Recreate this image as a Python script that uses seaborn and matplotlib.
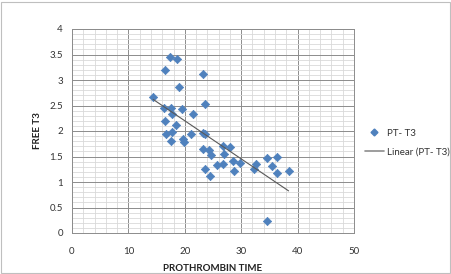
import numpy as np
import pandas as pd
import matplotlib
matplotlib.use("Agg")
import matplotlib.pyplot as plt
import seaborn as sns
from matplotlib.ticker import MultipleLocator, FormatStrFormatter
from matplotlib.lines import Line2D

pt = [14.4, 16.3, 16.5, 17.4, 18.6, 19.0, 17.6, 16.5, 17.7, 18.4, 19.5,
      16.7, 17.7, 17.6, 19.9, 19.7, 21.1, 21.5, 23.2, 23.6, 23.2, 23.6,
      23.2, 24.3, 24.6, 23.6, 24.5, 25.7, 26.8, 27.0, 26.8, 28.0, 28.5,
      28.7, 29.8, 32.3, 32.6, 34.6, 35.5, 36.3, 36.3, 38.4, 34.6]
t3 = [2.67, 2.45, 3.20, 3.45, 3.41, 2.86, 2.45, 2.20, 2.33, 2.12, 2.43,
      1.95, 1.98, 1.80, 1.78, 1.84, 1.94, 2.33, 3.12, 2.53, 1.96, 1.94,
      1.65, 1.63, 1.53, 1.25, 1.11, 1.33, 1.35, 1.55, 1.70, 1.68, 1.42,
      1.22, 1.37, 1.25, 1.35, 1.47, 1.31, 1.49, 1.17, 1.22, 0.24]

df = pd.DataFrame({"PROTHROMBIN TIME": pt, "FREE T3": t3})

sns.set_style("white")
plt.rcParams['font.family'] = ['Lato', 'DejaVu Sans']

fig = plt.figure(figsize=(4.52, 2.74), dpi=100)
ax = fig.add_axes([72/452, 41/274, 282/452, 204/274])

sns.scatterplot(data=df, x="PROTHROMBIN TIME", y="FREE T3", ax=ax,
                marker="D", s=18, color="#4F81BD", edgecolor="#4F81BD",
                linewidth=0.5, zorder=3, legend=False)

slope, intercept = np.polyfit(df["PROTHROMBIN TIME"], df["FREE T3"], 1)
xs = np.array([min(pt), max(pt)])
ax.plot(xs, slope * xs + intercept, color="#595959", lw=0.8, zorder=4)

ax.set_xlim(0, 50)
ax.set_ylim(0, 4)
ax.xaxis.set_major_locator(MultipleLocator(10))
ax.xaxis.set_minor_locator(MultipleLocator(2))
ax.yaxis.set_major_locator(MultipleLocator(0.5))
ax.yaxis.set_minor_locator(MultipleLocator(0.1))
ax.yaxis.set_major_formatter(FormatStrFormatter("%g"))
ax.grid(which="major", color="#8C8C8C", lw=0.7)
ax.grid(which="minor", color="#D9D9D9", lw=0.6)
ax.set_axisbelow(True)
for s in ax.spines.values():
    s.set_color("#8C8C8C")
    s.set_linewidth(0.7)
ax.tick_params(which="both", direction="out", colors="#8C8C8C", labelcolor="#333333",
               labelsize=7, length=3, width=0.6)
ax.tick_params(which="minor", length=2)
ax.tick_params(axis="x", pad=7)

ax.set_xlabel("PROTHROMBIN TIME", fontsize=7, fontweight="bold", color="#222222", labelpad=6)
ax.set_ylabel("FREE T3", fontsize=7, fontweight="bold", color="#222222", labelpad=5)

handles = [Line2D([], [], marker="D", color="#4F81BD", ls="none", markersize=3.5),
           Line2D([], [], color="#8C8C8C", lw=1.2)]
fig.legend(handles, ["PT- T3", "Linear (PT- T3)"], loc="upper left",
           bbox_to_anchor=(356/452, 1 - 120/274), frameon=False, fontsize=7,
           handlelength=2.0, handletextpad=0.3, labelspacing=1.0,
           labelcolor="#333333")

fig.patches.append(plt.Rectangle((0.002, 0.004), 0.994, 0.99, transform=fig.transFigure,
                                 fill=False, edgecolor="#BFBFBF", lw=0.8))

fig.savefig("out.png", dpi=100)
